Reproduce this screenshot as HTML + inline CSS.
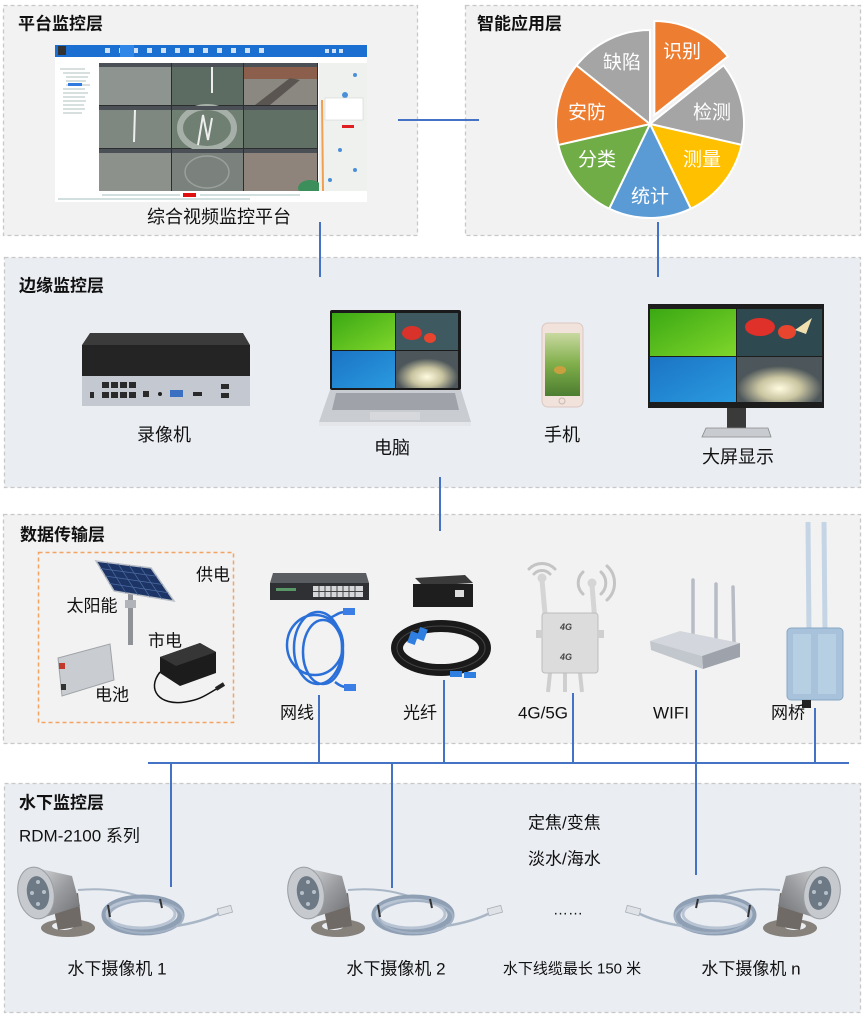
<!DOCTYPE html>
<html><head><meta charset="utf-8">
<style>
html,body{margin:0;padding:0;background:#fff;}
svg{display:block;}
text{font-family:"Liberation Sans","Noto Sans CJK SC",sans-serif;}
</style></head><body>
<svg width="865" height="1016" viewBox="0 0 865 1016" xmlns="http://www.w3.org/2000/svg">
<defs>
  <linearGradient id="steel" x1="0" y1="0" x2="1" y2="1">
    <stop offset="0" stop-color="#d4d6d8"/><stop offset="0.5" stop-color="#9a9c9f"/><stop offset="1" stop-color="#6d6f72"/>
  </linearGradient>
  <linearGradient id="green" x1="0" y1="0" x2="1" y2="1">
    <stop offset="0" stop-color="#3aa814"/><stop offset="1" stop-color="#7fd62a"/>
  </linearGradient>
  <linearGradient id="blue" x1="0" y1="0" x2="1" y2="1">
    <stop offset="0" stop-color="#1b74c4"/><stop offset="1" stop-color="#2a9ae0"/>
  </linearGradient>
  <radialGradient id="glow" cx="0.5" cy="0.7" r="0.5">
    <stop offset="0" stop-color="#fffbe0"/><stop offset="0.5" stop-color="#c9c4a0"/><stop offset="1" stop-color="#4d565a"/>
  </radialGradient>
  <linearGradient id="grass" x1="0" y1="0" x2="0" y2="1">
    <stop offset="0" stop-color="#c9d9a0"/><stop offset="0.5" stop-color="#7fae4a"/><stop offset="1" stop-color="#4d7d30"/>
  </linearGradient>
  <g id="cam">
    <path d="M78,890 C110,887 132,893 150,900" fill="none" stroke="#a9b6c6" stroke-width="2"/>
    <ellipse cx="143" cy="915" rx="38" ry="17" fill="none" stroke="#8f9fb4" stroke-width="7"/>
    <ellipse cx="141" cy="914" rx="34" ry="14" fill="none" stroke="#b8c4d3" stroke-width="3"/>
    <ellipse cx="146" cy="917" rx="37" ry="16" fill="none" stroke="#a3b1c4" stroke-width="2"/>
    <line x1="108" y1="905" x2="110" y2="917" stroke="#333" stroke-width="2"/>
    <line x1="160" y1="899" x2="162" y2="908" stroke="#333" stroke-width="2"/>
    <path d="M176,926 C195,923 210,918 220,913" fill="none" stroke="#a9b6c6" stroke-width="2.5"/>
    <rect x="218" y="907" width="14" height="7" fill="#dfe3e8" stroke="#aab0b8" stroke-width="0.8" transform="rotate(-15 225 911)"/>
    <ellipse cx="68" cy="928" rx="27" ry="9" fill="#86817b"/>
    <ellipse cx="63" cy="926" rx="11" ry="4" fill="#eaedf2"/>
    <polygon points="52,900 78,893 82,926 58,930" fill="#6f6a66"/>
    <polygon points="36,868 72,876 80,906 42,918" fill="url(#steel)"/>
    <ellipse cx="36" cy="893" rx="18" ry="26" fill="#c6c9cd" stroke="#9a9ea3" stroke-width="1" transform="rotate(-10 36 893)"/>
    <ellipse cx="38" cy="893" rx="11" ry="17" fill="#6d7a86" transform="rotate(-10 38 893)"/>
    <circle cx="38" cy="882" r="2" fill="#b7c0c8"/><circle cx="44" cy="892" r="2" fill="#b7c0c8"/>
    <circle cx="38" cy="904" r="2" fill="#b7c0c8"/><circle cx="32" cy="893" r="2" fill="#b7c0c8"/>
  </g>
</defs>

<!-- Panels -->
<rect x="3.5" y="5.5" width="414" height="230" fill="#f2f2f2" stroke="#c8c8c8" stroke-width="1.3" stroke-dasharray="4 3"/>
<rect x="465.5" y="5.5" width="395" height="230" fill="#f2f2f2" stroke="#c8c8c8" stroke-width="1.3" stroke-dasharray="4 3"/>
<rect x="4.5" y="257.5" width="856" height="230" fill="#eaedf2" stroke="#c8c8c8" stroke-width="1.3" stroke-dasharray="4 3"/>
<rect x="3.5" y="514.5" width="857" height="229" fill="#f2f2f2" stroke="#c8c8c8" stroke-width="1.3" stroke-dasharray="4 3"/>
<rect x="4.5" y="783.5" width="856" height="229" fill="#eaedf2" stroke="#c8c8c8" stroke-width="1.3" stroke-dasharray="4 3"/>

<!-- Connectors -->
<g stroke="#4472c4" stroke-width="2" fill="none">
  <line x1="398" y1="120" x2="479" y2="120"/>
  <line x1="320" y1="222" x2="320" y2="277"/>
  <line x1="658" y1="222" x2="658" y2="277"/>
  <line x1="440" y1="477" x2="440" y2="531"/>
  <line x1="148" y1="763" x2="849" y2="763"/>
  <line x1="319" y1="695" x2="319" y2="763"/>
  <line x1="444" y1="680" x2="444" y2="763"/>
  <line x1="573" y1="693" x2="573" y2="763"/>
  <line x1="696" y1="670" x2="696" y2="875"/>
  <line x1="815" y1="708" x2="815" y2="763"/>
  <line x1="171" y1="763" x2="171" y2="887"/>
  <line x1="392" y1="763" x2="392" y2="888"/>
</g>

<!-- Titles -->
<g font-size="17" font-weight="bold" fill="#111" dominant-baseline="central">
  <text x="18" y="24">平台监控层</text>
  <text x="477" y="24">智能应用层</text>
  <text x="19" y="286">边缘监控层</text>
  <text x="20" y="535">数据传输层</text>
  <text x="19" y="803">水下监控层</text>
</g>

<!-- Platform screenshot -->
<rect x="55" y="45" width="312" height="157" fill="#ffffff"/>
<rect x="55" y="45" width="312" height="12" fill="#1a6fd0"/>
<rect x="58" y="46" width="8" height="9" fill="#333"/>
<g fill="#cfe0f7">
  <rect x="105" y="48" width="5" height="5"/><rect x="119" y="48" width="5" height="5"/><rect x="133" y="48" width="5" height="5"/>
  <rect x="147" y="48" width="5" height="5"/><rect x="161" y="48" width="5" height="5"/><rect x="175" y="48" width="5" height="5"/>
  <rect x="189" y="48" width="5" height="5"/><rect x="203" y="48" width="5" height="5"/><rect x="217" y="48" width="5" height="5"/>
  <rect x="231" y="48" width="5" height="5"/><rect x="245" y="48" width="5" height="5"/><rect x="259" y="48" width="5" height="5"/>
  <rect x="325" y="49" width="4" height="4"/><rect x="332" y="49" width="4" height="4"/><rect x="339" y="49" width="4" height="4"/>
</g>
<rect x="120" y="45" width="14" height="12" fill="#2f86e6"/>
<g stroke="#9aa" stroke-width="0.8">
  <line x1="60" y1="69" x2="85" y2="69"/><line x1="63" y1="73" x2="90" y2="73"/><line x1="66" y1="77" x2="88" y2="77"/>
  <line x1="66" y1="81" x2="86" y2="81"/><line x1="66" y1="85" x2="90" y2="85"/><line x1="63" y1="89" x2="85" y2="89"/>
  <line x1="63" y1="93" x2="88" y2="93"/><line x1="63" y1="97" x2="85" y2="97"/><line x1="63" y1="101" x2="86" y2="101"/>
  <line x1="63" y1="105" x2="84" y2="105"/><line x1="63" y1="109" x2="85" y2="109"/><line x1="63" y1="113" x2="82" y2="113"/>
</g>
<rect x="68" y="83" width="14" height="3" fill="#2f7be0"/>
<rect x="99" y="63" width="219" height="128" fill="#2b2d2f"/>
<g>
  <rect x="99" y="67" width="72" height="38" fill="#8e948f"/>
  <rect x="172" y="67" width="71" height="38" fill="#5d6c63"/>
  <line x1="212" y1="67" x2="212" y2="93" stroke="#eee" stroke-width="2"/>
  <rect x="244" y="67" width="73" height="38" fill="#8b8882"/>
  <rect x="244" y="67" width="73" height="12" fill="#8b5f4c"/>
  <polygon points="255,105 290,78 300,80 270,105" fill="#5a5550"/>
  <rect x="99" y="110" width="72" height="38" fill="#7e8881"/>
  <line x1="135" y1="110" x2="134" y2="142" stroke="#eee" stroke-width="2"/>
  <rect x="172" y="110" width="71" height="38" fill="#6f7f72"/>
  <ellipse cx="207" cy="128" rx="27" ry="21" fill="none" stroke="#a7b0a8" stroke-width="6"/>
  <polyline points="198,145 203,115 208,140 212,118" fill="none" stroke="#eee" stroke-width="2"/>
  <rect x="244" y="110" width="73" height="38" fill="#607064"/>
  <rect x="99" y="153" width="72" height="38" fill="#8d918c"/>
  <rect x="172" y="153" width="71" height="38" fill="#7b827d"/>
  <ellipse cx="207" cy="172" rx="22" ry="16" fill="none" stroke="#9aa09b" stroke-width="1.5"/>
  <rect x="244" y="153" width="73" height="38" fill="#8f847b"/>
  <ellipse cx="310" cy="188" rx="12" ry="8" fill="#3c8f5a"/>
</g>
<g fill="#4a5055">
  <rect x="99" y="63" width="72" height="4"/><rect x="172" y="63" width="71" height="4"/><rect x="244" y="63" width="73" height="4"/>
  <rect x="99" y="106" width="72" height="4"/><rect x="172" y="106" width="71" height="4"/><rect x="244" y="106" width="73" height="4"/>
  <rect x="99" y="149" width="72" height="4"/><rect x="172" y="149" width="71" height="4"/><rect x="244" y="149" width="73" height="4"/>
</g>
<rect x="319" y="63" width="48" height="128" fill="#eef1ee"/>
<line x1="322" y1="100" x2="323" y2="191" stroke="#f0a050" stroke-width="2"/>
<g fill="#4a90d9">
  <circle cx="355" cy="75" r="2"/><circle cx="345" cy="95" r="3"/><circle cx="360" cy="110" r="2"/>
  <circle cx="340" cy="150" r="2"/><circle cx="355" cy="170" r="2"/><circle cx="330" cy="180" r="2"/>
</g>
<rect x="325" y="98" width="38" height="22" fill="#ffffff" stroke="#ccc" stroke-width="0.5"/>
<rect x="342" y="125" width="12" height="3" fill="#e02020"/>
<rect x="55" y="191" width="312" height="11" fill="#ffffff"/>
<rect x="183" y="193" width="13" height="4" fill="#e01010"/>
<g stroke="#8aa" stroke-width="0.7">
  <line x1="102" y1="195" x2="180" y2="195"/><line x1="200" y1="195" x2="300" y2="195"/>
  <line x1="58" y1="199" x2="250" y2="199"/>
</g>
<text x="219" y="217" font-size="18" fill="#111" text-anchor="middle" dominant-baseline="central">综合视频监控平台</text>

<!-- Pie chart -->
<g stroke="#ffffff" stroke-width="2">
  <path d="M654.34,114.99 L654.34,20.99 A94,94 0 0 1 727.83,56.38 Z" fill="#ed7d31"/>
  <path d="M650,124 L723.49,65.39 A94,94 0 0 1 741.64,144.92 Z" fill="#a5a5a5"/>
  <path d="M650,124 L741.64,144.92 A94,94 0 0 1 690.79,208.69 Z" fill="#ffc000"/>
  <path d="M650,124 L690.79,208.69 A94,94 0 0 1 609.21,208.69 Z" fill="#5b9bd5"/>
  <path d="M650,124 L609.21,208.69 A94,94 0 0 1 558.36,144.92 Z" fill="#70ad47"/>
  <path d="M650,124 L558.36,144.92 A94,94 0 0 1 576.51,65.39 Z" fill="#ed7d31"/>
  <path d="M650,124 L576.51,65.39 A94,94 0 0 1 650,30 Z" fill="#a5a5a5"/>
</g>
<g font-size="19" fill="#ffffff" text-anchor="middle" dominant-baseline="central">
  <text x="682" y="52">识别</text>
  <text x="712" y="113">检测</text>
  <text x="702" y="160">测量</text>
  <text x="650" y="197">统计</text>
  <text x="597" y="160">分类</text>
  <text x="587" y="113">安防</text>
  <text x="622" y="63">缺陷</text>
</g>

<!-- Edge: NVR -->
<polygon points="90,333 243,333 250,345 82,345" fill="#3b3b3b"/>
<rect x="82" y="345" width="168" height="31" fill="#242424"/>
<rect x="82" y="376" width="168" height="30" fill="#c4c9d1"/>
<g fill="#2a2a2a">
  <rect x="102" y="382" width="7" height="6"/><rect x="111" y="382" width="7" height="6"/><rect x="120" y="382" width="7" height="6"/><rect x="129" y="382" width="7" height="6"/>
  <rect x="102" y="392" width="7" height="6"/><rect x="111" y="392" width="7" height="6"/><rect x="120" y="392" width="7" height="6"/><rect x="129" y="392" width="7" height="6"/>
  <rect x="143" y="391" width="6" height="6"/><rect x="90" y="392" width="4" height="6"/>
  <rect x="193" y="392" width="9" height="4"/>
  <rect x="221" y="384" width="8" height="5"/><rect x="221" y="393" width="8" height="5"/>
</g>
<rect x="170" y="390" width="13" height="7" fill="#3b6fc1"/>
<circle cx="160" cy="394" r="2" fill="#222"/>

<!-- Laptop -->
<rect x="330" y="310" width="131" height="80" rx="2" fill="#1a1a1a"/>
<rect x="332" y="313" width="63" height="37" fill="url(#green)"/>
<rect x="396" y="313" width="62" height="37" fill="#3f5960"/>
<ellipse cx="412" cy="333" rx="10" ry="7" fill="#d9322a"/>
<ellipse cx="430" cy="338" rx="6" ry="5" fill="#e8452f"/>
<rect x="332" y="351" width="63" height="37" fill="url(#blue)"/>
<rect x="396" y="351" width="62" height="37" fill="url(#glow)"/>
<polygon points="330,390 461,390 471,422 319,422" fill="#c9ccd1"/>
<polygon points="336,393 455,393 459,410 332,410" fill="#9fa3a9"/>
<rect x="370" y="412" width="50" height="8" fill="#d6d8dc"/>
<rect x="319" y="422" width="152" height="4" fill="#e4e6e9"/>

<!-- Phone -->
<rect x="542" y="323" width="41" height="84" rx="6" fill="#f1e2dc" stroke="#dcc8c0"/>
<rect x="545" y="333" width="35" height="63" fill="url(#grass)"/>
<ellipse cx="560" cy="370" rx="6" ry="4" fill="#c9a040"/>
<circle cx="562" cy="401" r="3" fill="none" stroke="#c9b8b0"/>

<!-- Monitor -->
<rect x="648" y="304" width="176" height="104" fill="#1d1d1d"/>
<rect x="650" y="309" width="86" height="47" fill="url(#green)"/>
<rect x="737" y="309" width="85" height="47" fill="#2e4a50"/>
<ellipse cx="760" cy="327" rx="15" ry="9" fill="#e0302a"/>
<ellipse cx="787" cy="332" rx="9" ry="7" fill="#e8452f"/>
<polygon points="795,330 812,318 806,334" fill="#f0e0b0"/>
<rect x="650" y="357" width="86" height="45" fill="url(#blue)"/>
<rect x="737" y="357" width="85" height="45" fill="url(#glow)"/>
<rect x="727" y="408" width="19" height="21" fill="#3a3a3a"/>
<polygon points="706,428 768,428 771,437 702,437" fill="#c8ccd0" stroke="#888" stroke-width="0.8"/>

<g font-size="18" fill="#111" text-anchor="middle" dominant-baseline="central">
  <text x="164" y="435">录像机</text>
  <text x="392" y="448">电脑</text>
  <text x="562" y="435">手机</text>
  <text x="738" y="457">大屏显示</text>
</g>

<!-- Data: power box -->
<rect x="38.5" y="552.5" width="195" height="170" fill="none" stroke="#f4a461" stroke-width="1.5" stroke-dasharray="4 3"/>
<rect x="128" y="594" width="5" height="51" fill="#8f9296"/>
<rect x="125" y="600" width="11" height="8" fill="#b0b3b7"/>
<polygon points="96,561 151,568 174,601 114,591" fill="#1d3566" stroke="#b9bec6" stroke-width="1.5"/>
<g stroke="#4c6ca2" stroke-width="0.7">
  <line x1="107" y1="562.4" x2="126" y2="593"/><line x1="118" y1="563.8" x2="138" y2="595"/>
  <line x1="129" y1="565.2" x2="150" y2="597"/><line x1="140" y1="566.6" x2="162" y2="599"/>
  <line x1="100.5" y1="568.5" x2="156.75" y2="576.25"/><line x1="105" y1="576" x2="162.5" y2="584.5"/>
  <line x1="109.5" y1="583.5" x2="168.25" y2="592.75"/>
</g>
<polygon points="58,658 110,644 114,680 62,696" fill="#c9cdd2" stroke="#a0a4a8"/>
<rect x="59" y="663" width="6" height="6" fill="#c0392b"/>
<rect x="61" y="684" width="5" height="6" fill="#333"/>
<path d="M160,672 C146,690 160,706 185,702 C200,700 206,695 218,688" fill="none" stroke="#111" stroke-width="1.5"/>
<line x1="216" y1="689" x2="224" y2="684" stroke="#222" stroke-width="4"/>
<polygon points="160,657 200,643 216,652 216,673 180,686 160,673" fill="#1c1c1c"/>
<polygon points="160,657 200,643 216,652 176,666" fill="#363636"/>

<g font-size="17" fill="#111" text-anchor="middle" dominant-baseline="central">
  <text x="213" y="575">供电</text>
  <text x="92" y="606">太阳能</text>
  <text x="165" y="641">市电</text>
  <text x="112" y="695">电池</text>
</g>

<!-- Switch + cable -->
<polygon points="273,573 366,573 369,583 270,583" fill="#5a5d62"/>
<rect x="270" y="583" width="99" height="17" fill="#2e3034"/>
<rect x="313" y="586" width="50" height="11" fill="#d5d7da"/>
<g stroke="#444" stroke-width="1"><line x1="313" y1="591.5" x2="363" y2="591.5"/>
<line x1="319" y1="586" x2="319" y2="597"/><line x1="325" y1="586" x2="325" y2="597"/><line x1="331" y1="586" x2="331" y2="597"/>
<line x1="337" y1="586" x2="337" y2="597"/><line x1="343" y1="586" x2="343" y2="597"/><line x1="349" y1="586" x2="349" y2="597"/><line x1="355" y1="586" x2="355" y2="597"/></g>
<rect x="276" y="588" width="20" height="3" fill="#7d8" opacity="0.6"/>
<g fill="none" stroke="#2b6fd8" stroke-width="2.5">
  <ellipse cx="318" cy="648" rx="24" ry="36"/>
  <ellipse cx="323" cy="652" rx="20" ry="32"/>
  <ellipse cx="315" cy="645" rx="28" ry="30"/>
  <path d="M330,618 C338,614 340,612 345,612"/>
  <path d="M335,682 C340,686 343,687 346,687"/>
</g>
<rect x="343" y="608" width="12" height="7" fill="#3a7ee6"/>
<rect x="344" y="684" width="12" height="7" fill="#3a7ee6"/>

<!-- Fiber -->
<polygon points="415,578 465,575 473,583 423,586" fill="#3a3a3a"/>
<rect x="413" y="584" width="60" height="23" fill="#1e1e1e"/>
<rect x="455" y="590" width="9" height="7" fill="#ddd"/>
<ellipse cx="441" cy="648" rx="44" ry="22" fill="none" stroke="#1a1a1a" stroke-width="12"/>
<ellipse cx="441" cy="648" rx="44" ry="22" fill="none" stroke="#444" stroke-width="1"/>
<rect x="409" y="632" width="8" height="12" fill="#2f7fe0" transform="rotate(20 413 638)"/>
<rect x="418" y="628" width="8" height="12" fill="#2f7fe0" transform="rotate(20 422 634)"/>
<rect x="450" y="671" width="12" height="6" fill="#2f7fe0"/>
<rect x="464" y="672" width="12" height="6" fill="#2f7fe0"/>

<!-- 4G router -->
<g fill="none" stroke="#c4c4c4" stroke-width="3" stroke-linecap="round">
  <path d="M529,569 A18,18 0 0 1 555,569"/>
  <path d="M534,574 A11,11 0 0 1 550,574"/>
  <path d="M601,572 A15,15 0 0 1 601,594"/>
  <path d="M607,566 A23,23 0 0 1 607,600"/>
  <path d="M583,572 A15,15 0 0 0 583,594"/>
</g>
<line x1="542" y1="580" x2="546" y2="625" stroke="#d5d5d5" stroke-width="5"/>
<circle cx="542" cy="578" r="4.5" fill="#d5d5d5"/>
<line x1="592" y1="585" x2="595" y2="622" stroke="#d5d5d5" stroke-width="5"/>
<circle cx="592" cy="583" r="4.5" fill="#d5d5d5"/>
<g stroke="#cfcfcf" stroke-width="4"><line x1="550" y1="673" x2="548" y2="692"/><line x1="565" y1="673" x2="565" y2="692"/><line x1="580" y1="673" x2="582" y2="692"/></g>
<rect x="542" y="613" width="56" height="60" rx="3" fill="#dcdcdc" stroke="#bdbdbd"/>
<rect x="536" y="630" width="7" height="8" fill="#cfcfcf"/><rect x="597" y="630" width="7" height="8" fill="#cfcfcf"/>
<text x="566" y="630" font-size="9" font-weight="bold" font-style="italic" fill="#444" text-anchor="middle">4G</text>
<text x="566" y="660" font-size="9" font-weight="bold" font-style="italic" fill="#444" text-anchor="middle">4G</text>

<!-- WIFI router -->
<g stroke="#b8bcc4" stroke-width="3.5" stroke-linecap="round">
  <line x1="693" y1="580" x2="693" y2="636"/><line x1="716" y1="584" x2="716" y2="639"/><line x1="733" y1="587" x2="734" y2="642"/>
</g>
<polygon points="650,641 680,631 740,643 702,656" fill="#d3d6dc"/>
<polygon points="702,656 740,643 740,657 703,669" fill="#9ea3ab"/>
<polygon points="650,641 702,656 703,669 651,650" fill="#c2c6cd"/>

<!-- Bridge -->
<g stroke="#c5d5e5" stroke-width="5"><line x1="808" y1="522" x2="809" y2="632"/><line x1="824" y1="522" x2="825" y2="632"/></g>
<rect x="787" y="628" width="56" height="72" rx="4" fill="#a7c2da" stroke="#8aa8c4"/>
<rect x="793" y="634" width="18" height="60" fill="#b7cfe3"/>
<rect x="818" y="634" width="18" height="60" fill="#b7cfe3"/>
<rect x="802" y="700" width="9" height="8" fill="#222"/>

<g font-size="17" fill="#111" text-anchor="middle" dominant-baseline="central">
  <text x="297" y="713">网线</text>
  <text x="420" y="713">光纤</text>
  <text x="543" y="713">4G/5G</text>
  <text x="671" y="713">WIFI</text>
  <text x="788" y="713">网桥</text>
</g>

<!-- Underwater -->
<use href="#cam"/>
<use href="#cam" transform="translate(270,0)"/>
<use href="#cam" transform="translate(858,0) scale(-1,1)"/>

<g font-size="17" fill="#111" dominant-baseline="central">
  <text x="19" y="836">RDM-2100 系列</text>
  <text x="528" y="823">定焦/变焦</text>
  <text x="528" y="859">淡水/海水</text>
</g>
<text x="568" y="910" font-size="15" fill="#111" text-anchor="middle" dominant-baseline="central">……</text>
<g font-size="17" fill="#111" text-anchor="middle" dominant-baseline="central">
  <text x="117" y="969">水下摄像机 1</text>
  <text x="396" y="969">水下摄像机 2</text>
  <text x="751" y="969">水下摄像机 n</text>
</g>
<text x="572" y="969" font-size="15" fill="#111" text-anchor="middle" dominant-baseline="central">水下线缆最长 150 米</text>
</svg>
</body></html>
